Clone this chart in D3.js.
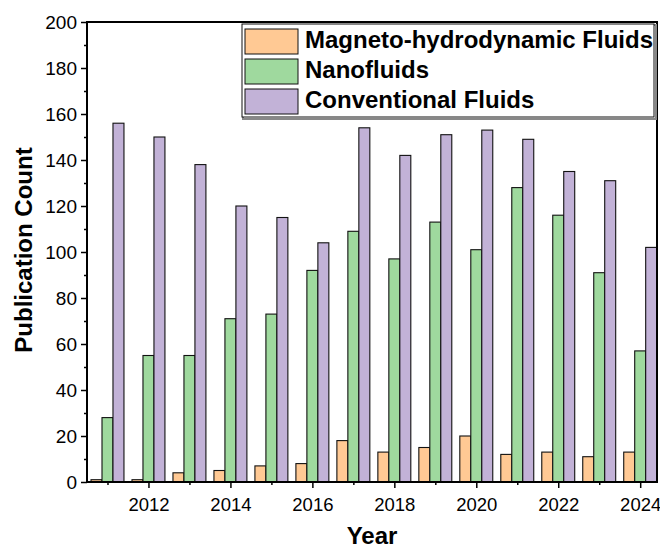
<!DOCTYPE html>
<html><head><meta charset="utf-8">
<script src="https://cdn.jsdelivr.net/npm/d3@7"></script>
<style>body{margin:0;background:#fff}svg{display:block;font-family:"Liberation Sans",Arial,sans-serif}</style>
</head><body><svg id="c" width="660" height="550"></svg>
<script>
const years = [2011,2012,2013,2014,2015,2016,2017,2018,2019,2020,2021,2022,2023,2024];
const mhd  = [1,1,4,5,7,8,18,13,15,20,12,13,11,13];
const nano = [28,55,55,71,73,92,109,97,113,101,128,116,91,57];
const conv = [156,150,138,120,115,104,154,142,151,153,149,135,131,102];
const seriesNames = ["Magneto-hydrodynamic Fluids","Nanofluids","Conventional Fluids"];
const colors = ["#FFC994","#9FD99E","#C2B2D7"];
const yTicks = [0,20,40,60,80,100,120,140,160,180,200];
const xTickLabels = [2012,2014,2016,2018,2020,2022,2024];

const svg = d3.select("#c");
const L=87,R=657,T=22,B=482;
const x = d3.scaleLinear().domain([2010.5,2024.41]).range([L,R]);
const y = d3.scaleLinear().domain([0,200]).range([B,T]);
const bw = 0.268;
const series=[mhd,nano,conv];

series.forEach((vals,si)=>{
  svg.append("g").selectAll("rect").data(years.map((yr,i)=>({yr,v:vals[i]}))).join("rect")
    .attr("x",d=>x(d.yr+(si-1)*bw-bw/2))
    .attr("width",x(2011+bw)-x(2011))
    .attr("y",d=>y(d.v))
    .attr("height",d=>B-y(d.v))
    .attr("fill",colors[si]).attr("stroke","#111").attr("stroke-width",1.1);
});

// axes
svg.append("g").attr("transform",`translate(${L},0)`)
  .call(d3.axisLeft(y).tickValues(yTicks).tickSize(6).tickPadding(4).tickFormat(d3.format("d")));
svg.append("g").attr("transform",`translate(${L},0)`)
  .call(d3.axisLeft(y).tickValues(d3.range(10,200,20)).tickSize(3).tickFormat(""));
const xa = svg.append("g").attr("transform",`translate(0,${B})`)
  .call(d3.axisBottom(x).tickValues(xTickLabels).tickSize(6).tickPadding(10).tickFormat(d3.format("d")));
svg.append("g").attr("transform",`translate(0,${B})`)
  .call(d3.axisBottom(x).tickValues(d3.range(2011,2025,2)).tickSize(3).tickFormat(""));
svg.selectAll(".domain").remove();
svg.selectAll(".tick line").attr("stroke","#000").attr("stroke-width",1.5);
svg.selectAll(".tick text").attr("font-size",19).attr("fill","#000").attr("font-family","Liberation Sans, Arial, sans-serif");
xa.selectAll(".tick text").attr("font-size",18.5);
// frame
svg.append("path").attr("d",`M${L},${T}H${R}V${B}H${L}Z`).attr("fill","none").attr("stroke","#000").attr("stroke-width",2);

// titles
svg.append("text").attr("x",(L+R)/2).attr("y",544).attr("text-anchor","middle")
  .attr("font-weight","bold").attr("font-size",24).text("Year");
svg.append("text").attr("transform",`translate(32,250) rotate(-90)`).attr("text-anchor","middle")
  .attr("font-weight","bold").attr("font-size",24).text("Publication Count");

// legend
const lg = svg.append("g");
lg.append("rect").attr("x",243).attr("y",25).attr("width",413).attr("height",94)
  .attr("fill","#fff").attr("stroke","#888").attr("stroke-width",2);
lg.append("rect").attr("x",242).attr("y",24).attr("width",412).attr("height",93)
  .attr("fill","#fff").attr("stroke","#111").attr("stroke-width",1);
seriesNames.forEach((n,i)=>{
  const yy = 29+i*30;
  lg.append("rect").attr("x",245).attr("y",yy).attr("width",53).attr("height",25)
    .attr("fill",colors[i]).attr("stroke","#111");
  lg.append("text").attr("x",305).attr("y",yy+13).attr("dominant-baseline","middle")
    .attr("font-weight","bold").attr("font-size",24).text(n);
});
</script></body></html>
